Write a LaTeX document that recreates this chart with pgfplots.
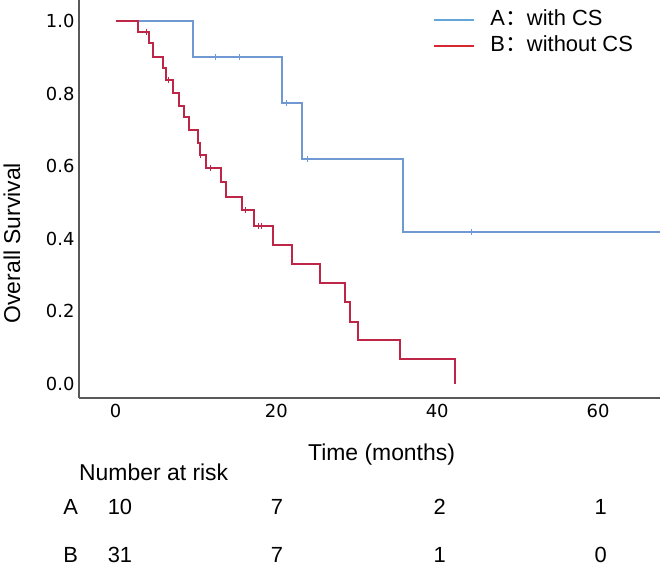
\documentclass[border=0pt]{standalone}
\usepackage{pgfplots}
\pgfplotsset{compat=1.18}
\usepackage{fontspec}
\setmainfont{Liberation Sans}
\newfontfamily\cjk{Noto Sans CJK SC}
\newfontfamily\tickfont{DejaVu Sans}
\definecolor{cA}{RGB}{112,152,210}
\definecolor{cB}{RGB}{190,38,72}
\definecolor{lA}{RGB}{100,165,218}
\definecolor{lB}{RGB}{214,40,48}
\begin{document}
\begin{tikzpicture}[x=1bp,y=1bp]
\path[use as bounding box] (0,0) rectangle (661,566);
\begin{axis}[
  at={(79bp,168bp)}, anchor=south west,
  width=581bp, height=398bp, scale only axis,
  xmin=-4.54, xmax=67.7, ymin=-0.0386, ymax=1.058,
  axis x line*=bottom, axis y line*=left,
  axis line style={line width=1.2bp, draw=black!65, -},
  xtick={0,20,40,60}, ytick={0,0.2,0.4,0.6,0.8,1},
  major tick length=0pt,
  /pgf/number format/assume math mode=true,
  yticklabel style={font=\tickfont\fontsize{18}{18}\selectfont, /pgf/number format/fixed, /pgf/number format/precision=1, /pgf/number format/zerofill, xshift=-1bp},
  xticklabel style={font=\tickfont\fontsize{18}{18}\selectfont, yshift=-3bp},
  xlabel={Time (months)},
  xlabel style={at={(axis description cs:0.5207,-0.142)}, anchor=center, font=\fontsize{23}{23}\selectfont},
  ylabel={Overall Survival},
  ylabel style={at={(axis description cs:-0.1153,0.389)}, anchor=center, font=\fontsize{23}{23}\selectfont},
  clip=false,
  legend style={at={(axis description cs:0.609,0.975)}, anchor=north west, draw=none, fill=none, inner sep=0pt, row sep=6bp, column sep=15bp, font=\fontsize{22}{22}\selectfont, nodes={inner sep=0pt, text height=15bp, text depth=5bp}},
  legend cell align=left,
  legend image code/.code={\draw[#1, line width=2.4bp] (0bp,0bp) -- (40bp,0bp);},
]
\addlegendimage{lA}
\addlegendentry{A{\cjk ：}with CS}
\addlegendimage{lB}
\addlegendentry{B{\cjk ：}without CS}
\addplot[const plot, cA, line width=2bp, forget plot] coordinates {
(0,1) (9.68,0.9) (20.7,0.775) (23.2,0.62) (35.7,0.42) (67.7,0.42)};
\addplot[only marks, mark=|, mark size=3bp, cA, mark options={line width=0.8bp}, forget plot] coordinates {
(12.4,0.9) (15.4,0.9) (21.3,0.775) (23.9,0.62) (44.3,0.42)};
\addplot[const plot, cB, line width=2bp, forget plot] coordinates {
(0,1) (2.76,0.969) (4.2,0.939) (4.7,0.902) (5.95,0.870) (6.3,0.837) (7.1,0.801) (7.9,0.766) (8.5,0.735) (9.1,0.700) (10.2,0.665) (10.5,0.631) (11.3,0.594) (13.1,0.556) (13.7,0.516) (15.7,0.479) (17.2,0.436) (19.6,0.383) (22.0,0.330) (25.4,0.279) (28.5,0.225) (29.2,0.172) (30.2,0.121) (35.4,0.068) (42.2,0)};
\addplot[only marks, mark=|, mark size=3bp, cB, mark options={line width=0.8bp}, forget plot] coordinates {
(3.8,0.969) (6.6,0.837) (10.6,0.631) (11.8,0.594) (16.1,0.479) (17.8,0.436) (18.2,0.436)};
\end{axis}
\begin{scope}[every node/.style={font=\fontsize{22}{22}\selectfont, inner sep=0pt}]
\node[anchor=west,font=\fontsize{23}{23}\selectfont] at (79,94) {Number at risk};
\node at (70.8,59.3) {A};
\node at (120,59.3) {10};
\node at (277,59.3) {7};
\node at (439.7,59.3) {2};
\node at (600.8,59.3) {1};
\node at (70.8,11.5) {B};
\node at (120,11.5) {31};
\node at (277,11.5) {7};
\node at (439.7,11.5) {1};
\node at (600.8,11.5) {0};
\end{scope}
\end{tikzpicture}
\end{document}
